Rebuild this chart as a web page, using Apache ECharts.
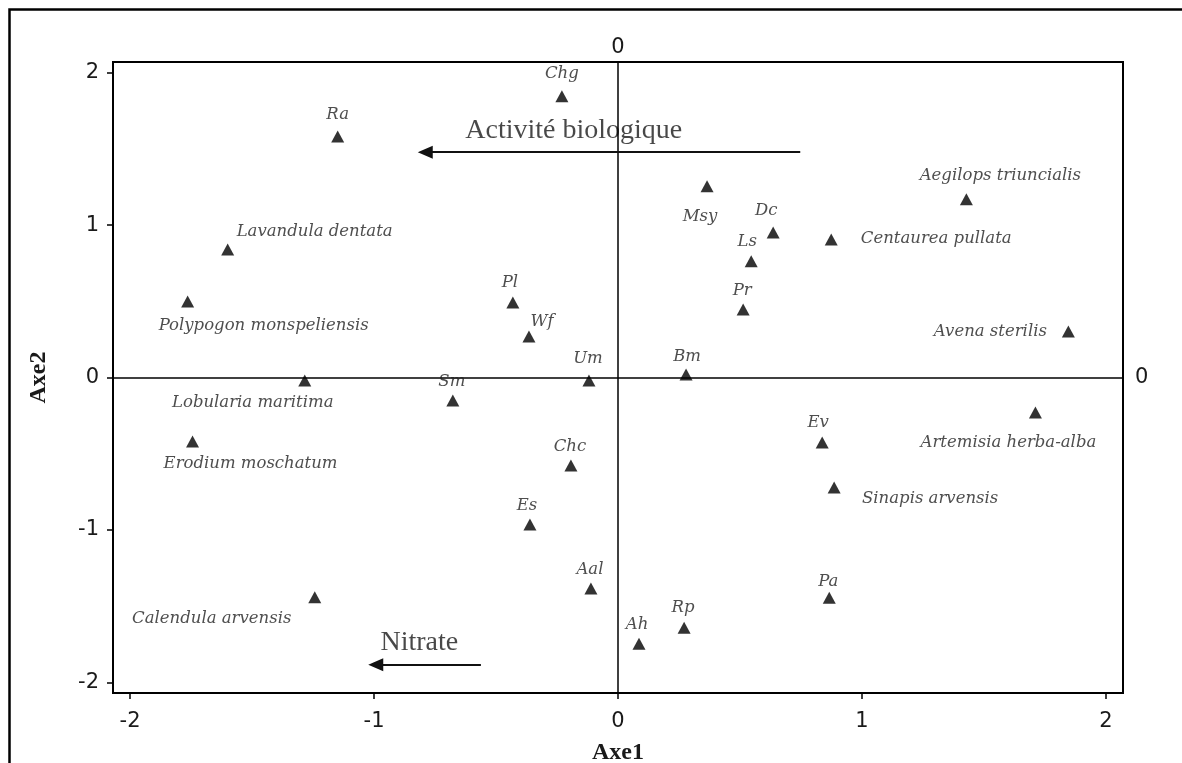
<!DOCTYPE html>
<html>
<head>
<meta charset="utf-8">
<script src="https://cdn.jsdelivr.net/npm/echarts@6/dist/echarts.min.js"></script>
<style>
  html, body { margin: 0; padding: 0; background: #fff; }
  #chart { width: 1182px; height: 763px; }
</style>
</head>
<body>
<div id="chart"></div>
<script>
// ---- data ----
const speciesNames = [
  'Chg', 'Ra', 'Lavandula dentata', 'Polypogon monspeliensis', 'Lobularia maritima',
  'Erodium moschatum', 'Calendula arvensis', 'Sm', 'Pl', 'Wf', 'Um', 'Chc', 'Es',
  'Aal', 'Ah', 'Rp', 'Pa', 'Ev', 'Sinapis arvensis', 'Artemisia herba-alba',
  'Avena sterilis', 'Centaurea pullata', 'Aegilops triuncialis', 'Dc', 'Ls', 'Msy', 'Pr', 'Bm'
];
const axe1Values = [
  -0.230, -1.149, -1.600, -1.764, -1.284,
  -1.744, -1.243, -0.677, -0.431, -0.365, -0.119, -0.193, -0.361,
  -0.111, 0.086, 0.271, 0.866, 0.837, 0.886, 1.711,
  1.846, 0.874, 1.428, 0.636, 0.546, 0.365, 0.513, 0.279
];
const axe2Values = [
  1.845, 1.582, 0.840, 0.499, -0.020,
  -0.420, -1.442, -0.151, 0.492, 0.269, -0.020, -0.578, -0.965,
  -1.385, -1.747, -1.642, -1.445, -0.427, -0.722, -0.230,
  0.302, 0.906, 1.169, 0.952, 0.762, 1.254, 0.446, 0.020
];
const xTickValues = [-2, -1, 0, 1, 2];
const yTickValues = [-2, -1, 0, 1, 2];
const vectorNames = ['Activité biologique', 'Nitrate'];
const vectorStartX = [0.747, -0.562];
const vectorStartY = [1.478, -1.885];
const vectorEndX = [-0.790, -0.993];
const vectorEndY = [1.478, -1.885];

// ---- styling (label placement relative to marker, in px) ----
const labelOffsets = {
  'Chg': [0, -23], 'Ra': [0, -22], 'Lavandula dentata': [87, -18],
  'Polypogon monspeliensis': [76, 24], 'Lobularia maritima': [-52, 22],
  'Erodium moschatum': [58, 22], 'Calendula arvensis': [-103, 21],
  'Sm': [-1, -19], 'Pl': [-3, -20], 'Wf': [13, -15], 'Um': [-1, -22],
  'Chc': [-1, -19], 'Es': [-3, -19], 'Aal': [-1, -19], 'Ah': [-2, -19],
  'Rp': [-1, -20], 'Pa': [-1, -16], 'Ev': [-4, -20], 'Sinapis arvensis': [96, 11],
  'Artemisia herba-alba': [-27, 30], 'Avena sterilis': [-78, 0],
  'Centaurea pullata': [105, -1], 'Aegilops triuncialis': [34, -24],
  'Dc': [-7, -22], 'Ls': [-4, -20], 'Msy': [-7, 30], 'Pr': [-1, -19], 'Bm': [1, -18]
};
const vectorLabelOffsets = [[-39, -22], [-9, -22]];

const XMIN = -2.07, XMAX = 2.07, YMIN = -2.07, YMAX = 2.07;

const speciesData = speciesNames.map((n, i) => ({
  name: n,
  value: [axe1Values[i], axe2Values[i]],
  label: { offset: labelOffsets[n] || [0, -20] }
}));

const vectorLines = vectorNames.map((n, i) => ([
  { coord: [vectorStartX[i], vectorStartY[i]], symbol: 'none' },
  { coord: [vectorEndX[i], vectorEndY[i]], symbol: 'triangle' }
]));

const vectorLabelData = vectorNames.map((n, i) => ({
  name: n,
  value: [(vectorStartX[i] + vectorEndX[i]) / 2, (vectorStartY[i] + vectorEndY[i]) / 2],
  label: { offset: vectorLabelOffsets[i] }
}));

const tickLabelStyle = { fontFamily: 'DejaVu Sans', fontSize: 21, color: '#1a1a1a' };
const axisNameStyle = { fontFamily: 'Liberation Serif', fontWeight: 'bold', fontSize: 24, color: '#1a1a1a' };

const chart = echarts.init(document.getElementById('chart'), null, { renderer: 'canvas' });
chart.setOption({
  animation: false,
  backgroundColor: '#fff',
  graphic: [{
    type: 'rect', left: 7, top: 7, z: 100, silent: true,
    shape: { x: 0, y: 0, width: 1300, height: 900 },
    style: { fill: 'none', stroke: '#000', lineWidth: 2.5 }
  }],
  grid: {
    left: 113, right: 59, top: 62, bottom: 70,
    containLabel: false, outerBoundsMode: 'none',
    show: true, borderColor: '#000', borderWidth: 2, backgroundColor: '#fff'
  },
  xAxis: [{
    type: 'value', min: XMIN, max: XMAX, position: 'bottom',
    axisLine: { show: true, onZero: false, lineStyle: { color: '#000', width: 2 } },
    axisTick: { show: true, customValues: xTickValues, length: 6, lineStyle: { color: '#000', width: 1.5 } },
    axisLabel: Object.assign({ customValues: xTickValues, margin: 18 }, tickLabelStyle),
    splitLine: { show: false },
    name: 'Axe1', nameLocation: 'middle', nameGap: 48, nameTextStyle: axisNameStyle
  }, {
    type: 'value', min: XMIN, max: XMAX, position: 'top',
    axisLine: { show: false, onZero: false },
    axisTick: { show: false },
    axisLabel: Object.assign({ customValues: [0], margin: 4 }, tickLabelStyle),
    splitLine: { show: false }
  }],
  yAxis: [{
    type: 'value', min: YMIN, max: YMAX, position: 'left',
    axisLine: { show: true, onZero: false, lineStyle: { color: '#000', width: 2 } },
    axisTick: { show: true, customValues: yTickValues, length: 6, lineStyle: { color: '#000', width: 1.5 } },
    axisLabel: Object.assign({ customValues: yTickValues, margin: 14 }, tickLabelStyle),
    splitLine: { show: false },
    name: 'Axe2', nameLocation: 'middle', nameGap: 62, nameTextStyle: axisNameStyle
  }, {
    type: 'value', min: YMIN, max: YMAX, position: 'right',
    axisLine: { show: false, onZero: false },
    axisTick: { show: false },
    axisLabel: Object.assign({ customValues: [0], margin: 12 }, tickLabelStyle),
    splitLine: { show: false }
  }],
  series: [{
    name: 'axes0',
    type: 'scatter',
    data: [],
    silent: true,
    markLine: {
      silent: true, symbol: 'none', animation: false,
      label: { show: false },
      lineStyle: { color: '#000', width: 1.5, type: 'solid' },
      emphasis: { disabled: true },
      data: [{ xAxis: 0 }, { yAxis: 0 }]
    }
  }, {
    name: 'vectors',
    type: 'scatter',
    data: vectorLabelData,
    symbolSize: 1,
    itemStyle: { color: 'rgba(0,0,0,0)' },
    silent: true,
    label: {
      show: true, position: 'inside', formatter: '{b}',
      fontFamily: 'Liberation Serif', fontSize: 28, color: '#1a1a1a'
    },
    markLine: {
      silent: true, animation: false,
      symbolSize: [13, 15],
      label: { show: false },
      lineStyle: { color: '#111', width: 2, type: 'solid' },
      itemStyle: { color: '#111' },
      emphasis: { disabled: true },
      data: vectorLines
    }
  }, {
    name: 'species',
    type: 'scatter',
    data: speciesData,
    symbol: 'triangle',
    symbolSize: [13, 12],
    itemStyle: { color: '#000' },
    z: 5,
    label: {
      show: true, position: 'inside', formatter: '{b}',
      fontFamily: 'DejaVu Serif', fontStyle: 'italic', fontSize: 16.5, color: '#222'
    }
  }]
});
</script>
</body>
</html>
